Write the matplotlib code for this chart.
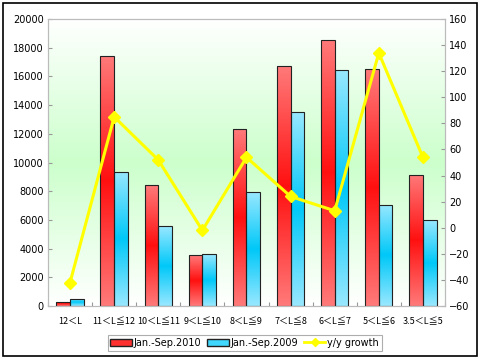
import matplotlib
matplotlib.use("Agg")
import matplotlib.pyplot as plt
import numpy as np
from matplotlib.colors import LinearSegmentedColormap
from matplotlib.patches import Rectangle
from matplotlib.lines import Line2D

plt.rcParams['font.family'] = ['DejaVu Sans']

categories = ["12＜L", "11＜L≦12", "10＜L≦11", "9＜L≦10", "8＜L≦9",
              "7＜L≦8", "6＜L≦7", "5＜L≦6", "3.5＜L≦5"]
sales_2010 = [300, 17450, 8430, 3550, 12330, 16720, 18540, 16500, 9130]
sales_2009 = [500, 9340, 5570, 3620, 7940, 13520, 16440, 7040, 5990]
growth = [-42, 85, 52, -2, 54, 24, 13, 134, 54]

fig = plt.figure(figsize=(4.8, 3.59), dpi=100)
fig.patch.set_facecolor('white')
ax = fig.add_axes([0.1, 0.1476, 0.827, 0.7994])
ax2 = ax.twinx()
ax.set_zorder(1); ax2.set_zorder(2)
ax.patch.set_visible(False)

# background gradient
ax.imshow(np.linspace(1, 0, 256).reshape(-1, 1),
          cmap=LinearSegmentedColormap.from_list('bg2', ['#ffffff', '#ccffcc', '#ffffff']),
          extent=[-0.5, 8.5, 0, 20000], aspect='auto', zorder=0)

x = np.arange(len(categories))
w = 0.31
red_cmap = LinearSegmentedColormap.from_list('r', ['#ff7a7a', '#ff1010', '#ff7a7a'])
cyan_cmap = LinearSegmentedColormap.from_list('c', ['#99e8ff', '#00c8f8', '#99e8ff'])

def grad_bars(xs, vals, cmap):
    bars = ax.bar(xs, vals, width=w, facecolor='none', edgecolor='#222222', linewidth=0.8, zorder=3)
    grad = np.linspace(0, 1, 256).reshape(-1, 1)
    for b in bars:
        im = ax.imshow(grad, cmap=cmap, extent=[b.get_x(), b.get_x() + b.get_width(), 0, b.get_height()],
                       aspect='auto', zorder=2)
        im.set_clip_path(b)
    return bars

grad_bars(x - w / 2, sales_2010, red_cmap)
grad_bars(x + w / 2, sales_2009, cyan_cmap)

ax.set_xlim(-0.5, 8.5)
ax.set_ylim(0, 20000)
ax.set_yticks(np.arange(0, 20001, 2000))
ax.set_xticks(np.arange(-0.5, 9, 1), minor=False)
ax.set_xticklabels([])
ax.set_xticks(x, minor=True)
ax.set_xticklabels(categories, minor=True, family=['Noto Sans CJK SC', 'DejaVu Sans'], fontsize=6.5)
ax.tick_params(axis='x', which='minor', length=0, pad=8)
ax.tick_params(axis='x', which='major', length=3, color='#999999', direction='in')
ax.tick_params(axis='y', labelsize=7, length=3, color='#999999', direction='in', pad=3)

ax2.plot(x, growth, color='#ffff00', linewidth=2.2, marker='D', markersize=6,
         markerfacecolor='#ffff00', markeredgecolor='#ffff00', zorder=5)
ax2.set_ylim(-60, 160)
ax2.set_yticks(np.arange(-60, 161, 20))
ax2.tick_params(axis='y', labelsize=7, length=3, color='#999999', direction='in', pad=3)

for a in (ax, ax2):
    for s in a.spines.values():
        s.set_color('#bbbbbb')
        s.set_linewidth(0.8)

handles = [Rectangle((0, 0), 1, 1, facecolor='#ff3030', edgecolor='#222222'),
           Rectangle((0, 0), 1, 1, facecolor='#40d8ff', edgecolor='#222222'),
           Line2D([], [], color='#ffff00', linewidth=2, marker='D', markersize=4)]
leg = fig.legend(handles, ['Jan.-Sep.2010', 'Jan.-Sep.2009', 'y/y growth'],
                 loc='lower center', bbox_to_anchor=(0.51, 0.01), ncol=3, fontsize=7,
                 frameon=True, fancybox=False, edgecolor='#999999', handlelength=2.2,
                 handletextpad=0.2, columnspacing=0.6, borderpad=0.3)
leg.get_frame().set_linewidth(0.8)

fig.add_artist(Rectangle((0.006, 0.008), 0.988, 0.985, transform=fig.transFigure,
                         fill=False, edgecolor='black', linewidth=1.2))

fig.savefig('out.png', dpi=100)
